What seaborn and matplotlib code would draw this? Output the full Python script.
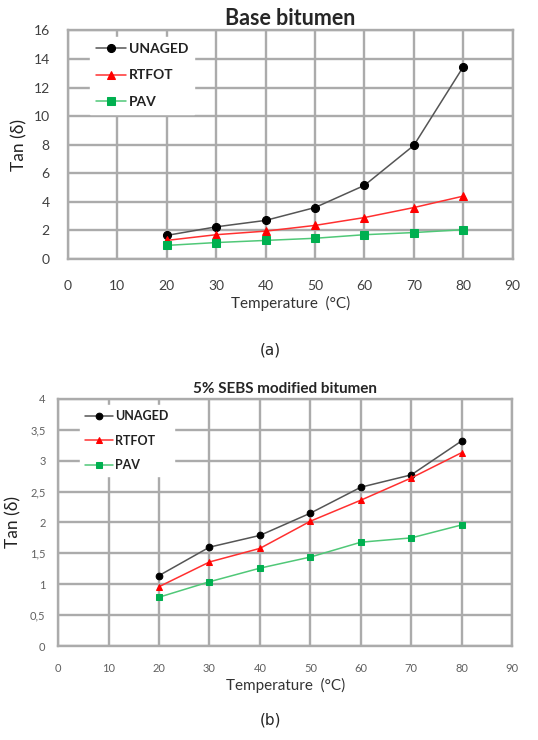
import numpy as np
import pandas as pd
import matplotlib
matplotlib.use("Agg")
import matplotlib.pyplot as plt
from matplotlib.ticker import FuncFormatter, MultipleLocator
import seaborn as sns

sns.set_style("white")
plt.rcParams['font.family'] = ['Lato', 'DejaVu Sans']

# data
temps = [20, 30, 40, 50, 60, 70, 80]
series_names = ['UNAGED', 'RTFOT', 'PAV']

base_unaged = [1.65, 2.25, 2.7, 3.6, 5.15, 7.95, 13.45]
base_rtfot = [1.3, 1.7, 1.95, 2.35, 2.9, 3.6, 4.4]
base_pav = [0.95, 1.15, 1.3, 1.45, 1.7, 1.85, 2.05]

sebs_unaged = [1.14, 1.6, 1.79, 2.15, 2.57, 2.77, 3.32]
sebs_rtfot = [0.96, 1.36, 1.58, 2.02, 2.36, 2.72, 3.13]
sebs_pav = [0.79, 1.04, 1.26, 1.44, 1.68, 1.75, 1.96]

line_colors = {'UNAGED': '#555555', 'RTFOT': '#ff3030', 'PAV': '#50c878'}
marker_colors = {'UNAGED': '#000000', 'RTFOT': '#ff0000', 'PAV': '#00b050'}
markers = {'UNAGED': 'o', 'RTFOT': '^', 'PAV': 's'}

grid_col = '#ababab'


def make_df(unaged, rtfot, pav):
    rows = []
    for name, vals in zip(series_names, [unaged, rtfot, pav]):
        for t, v in zip(temps, vals):
            rows.append({'Temperature': t, 'tan': v, 'Sample': name})
    return pd.DataFrame(rows)


def draw(ax, df, ymax, ystep, title, title_size, tick_size, tick_col, ms,
         xpad, ypad, ylabpad, lab_spacing, leg_size, comma=False):
    for name in series_names:
        sub = df[df['Sample'] == name]
        sns.lineplot(data=sub, x='Temperature', y='tan', ax=ax,
                     color=line_colors[name], marker=markers[name], markersize=ms,
                     markerfacecolor=marker_colors[name], markeredgecolor=marker_colors[name],
                     linewidth=1.1, label=name, zorder=3)
    ax.set_xlim(0, 90)
    ax.set_ylim(0, ymax)
    ax.xaxis.set_major_locator(MultipleLocator(10))
    ax.yaxis.set_major_locator(MultipleLocator(ystep))
    if comma:
        ax.yaxis.set_major_formatter(FuncFormatter(lambda v, _: f"{v:g}".replace('.', ',')))
    ax.grid(True, color=grid_col, linewidth=1.7)
    ax.set_axisbelow(True)
    for s in ax.spines.values():
        s.set_color(grid_col)
        s.set_linewidth(1.7)
    ax.tick_params(axis='both', direction='out', length=4, width=1.2, color=grid_col,
                   labelsize=tick_size, labelcolor=tick_col)
    ax.tick_params(axis='x', pad=xpad)
    ax.tick_params(axis='y', pad=ypad)
    ax.set_title(title, fontsize=title_size, fontweight='bold', pad=4)
    ax.set_xlabel('Temperature  (°C)', fontsize=11, color='#333333', labelpad=3)
    ax.set_ylabel('Tan (δ)', fontsize=12.5, color='#222222', labelpad=ylabpad)
    leg = ax.legend(loc='upper left', bbox_to_anchor=(0.035, 1.0), frameon=True,
                    fancybox=False, framealpha=1, edgecolor='white', facecolor='white',
                    handlelength=2.2, handletextpad=0.2, labelspacing=lab_spacing,
                    borderpad=0.4, prop={'weight': 'bold', 'size': leg_size})
    for txt in leg.get_texts():
        txt.set_color('#222222')


fig = plt.figure(figsize=(5.38, 7.4), dpi=100)
ax1 = fig.add_axes([0.126, 0.65, 0.827, 0.309])
ax2 = fig.add_axes([0.108, 0.127, 0.844, 0.334])

draw(ax1, make_df(base_unaged, base_rtfot, base_pav), 16, 2,
     'Base bitumen', 15.5, 10, '#404040', 5.8, 11, 9, 4, 1.05, 10)
draw(ax2, make_df(sebs_unaged, sebs_rtfot, sebs_pav), 4, 0.5,
     '5% SEBS modified bitumen', 11, 8, '#606060', 4.8, 8, 5, 6, 1.0, 9, comma=True)

fig.text(0.502, 0.527, '(a)', ha='center', va='center', fontsize=11, family='DejaVu Sans')
fig.text(0.502, 0.027, '(b)', ha='center', va='center', fontsize=11, family='DejaVu Sans')

fig.savefig('out.png', dpi=100)
